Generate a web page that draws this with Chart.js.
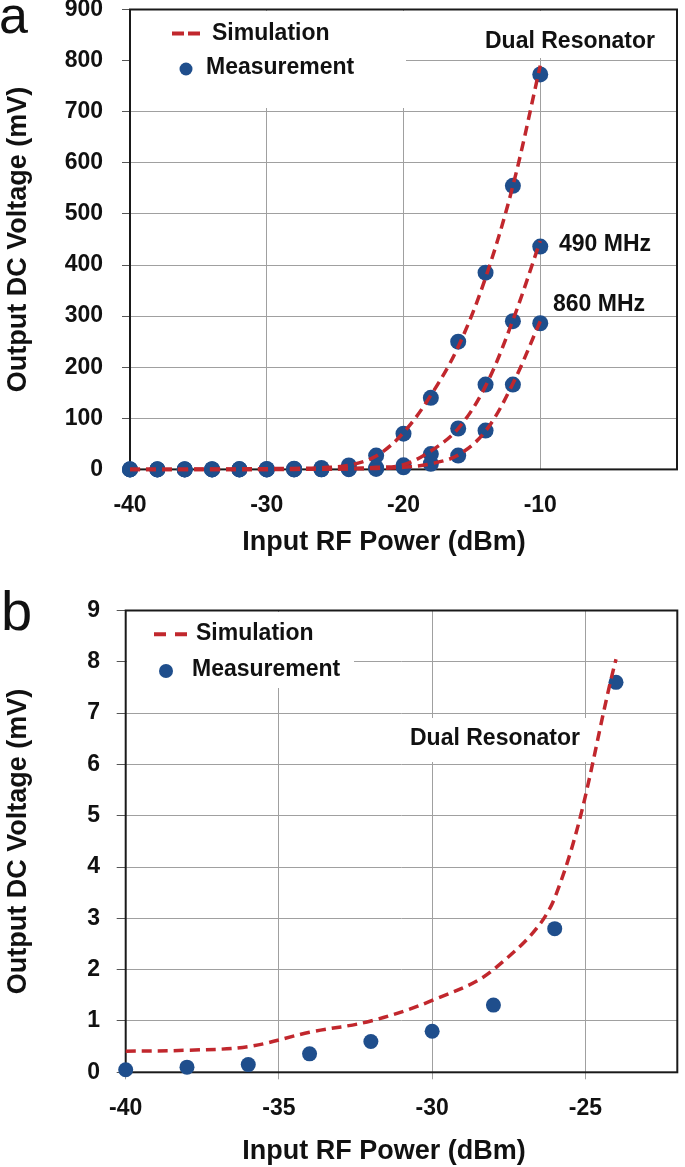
<!DOCTYPE html>
<html><head><meta charset="utf-8">
<script src="https://cdn.jsdelivr.net/npm/chart.js@4.4.1/dist/chart.umd.min.js"></script>
<style>
html,body{margin:0;padding:0;background:#fff;width:685px;height:1167px;overflow:hidden;}
#wa{position:absolute;left:0;top:0;width:685px;height:580px;}
#wb{position:absolute;left:0;top:580px;width:685px;height:587px;}
</style></head><body>
<div id="wa"><canvas id="ca"></canvas></div>
<div id="wb"><canvas id="cb"></canvas></div>
<script>
// ---------- Panel (a) data ----------
const powerA    = [-40,-38,-36,-34,-32,-30,-28,-26,-24,-22,-20,-18,-16,-14,-12,-10];
const measDualA = [0.05,0.1,0.15,0.36,0.6,0.8,1.3,2.8,7.6,27,70,140,250,385,555,773];
const meas490A  = [0,0,0,0,0,0,0.1,0.3,1,3,8,30,80,166,290,436];
const meas860A  = [0,0,0,0,0,0,0,0.1,0.5,1,4,11,27,76,166,286];
const simDualA  = [0.41,0.43,0.5,0.78,1.0,1.4,2.0,3.4,8.05,26,72,145,240,375,555,790];
const sim490A   = [0,0,0,0,0,0,0.5,1,2,4,9,36,80,163,292,447];
const sim860A   = [0,0,0,0,0,0,0,0.5,1,2,4,11,28,75,168,290];
const xTicksA   = [-40,-30,-20,-10];
const yTicksA   = [0,100,200,300,400,500,600,700,800,900];

// ---------- Panel (b) data ----------
const powerB  = [-40,-38,-36,-34,-32,-30,-28,-26,-24];
const measB   = [0.05,0.1,0.15,0.36,0.6,0.8,1.31,2.8,7.6];
const simB    = [0.41,0.43,0.5,0.78,1.0,1.4,2.0,3.4,8.05];
const xTicksB = [-40,-35,-30,-25];
const yTicksB = [0,1,2,3,4,5,6,7,8,9];

const FONT = '"Liberation Sans", Arial, sans-serif';
const RED = '#c1272d', BLUE = '#1f4e8c', GRID = '#a0a0a0', TXT = '#111';

const pts = (xs, ys) => xs.map((x, i) => ({x: x, y: ys[i]}));

function simSet(label, xs, ys) {
  return {type: 'line', label: label, data: pts(xs, ys), borderColor: RED, borderWidth: 3.5,
    borderDash: [10, 6], pointRadius: 0, fill: false, tension: 0.35,
    order: 0, clip: false};
}
function measSet(label, xs, ys, r) {
  return {type: 'scatter', label: label, data: pts(xs, ys), backgroundColor: BLUE,
    borderWidth: 0, pointRadius: r, pointHoverRadius: r, order: 1, clip: false};
}

function makeDeco(cfg) {
  return {
    id: 'deco',
    beforeDatasetsDraw(chart) {
      const ctx = chart.ctx, a = chart.chartArea;
      ctx.save();
      ctx.fillStyle = '#fff';
      cfg.boxes.forEach(b => ctx.fillRect(b[0], b[1], b[2] - b[0], b[3] - b[1]));
      ctx.strokeStyle = '#1a1a1a'; ctx.lineWidth = 2;
      ctx.strokeRect(a.left, a.top, a.right - a.left, a.bottom - a.top);
      ctx.restore();
    },
    afterDraw(chart) {
      const ctx = chart.ctx;
      ctx.save();
      const L = cfg.legend;
      ctx.strokeStyle = RED; ctx.lineWidth = 4; ctx.setLineDash([]);
      ctx.beginPath();
      ctx.moveTo(L.dash[0], L.dash[2]); ctx.lineTo(L.dash[0] + 12, L.dash[2]);
      ctx.moveTo(L.dash[1] - 12, L.dash[2]); ctx.lineTo(L.dash[1], L.dash[2]);
      ctx.stroke();
      ctx.fillStyle = BLUE;
      ctx.beginPath(); ctx.arc(L.dot[0], L.dot[1], L.dot[2], 0, Math.PI * 2); ctx.fill();
      ctx.fillStyle = TXT;
      ctx.font = 'bold 23px ' + FONT;
      ctx.textBaseline = 'middle'; ctx.textAlign = 'left';
      ctx.fillText('Simulation', L.sim[0], L.sim[1]);
      ctx.fillText('Measurement', L.meas[0], L.meas[1]);
      cfg.labels.forEach(l => ctx.fillText(l[0], l[1], l[2]));
      ctx.font = 'bold 27px ' + FONT;
      ctx.textAlign = 'center';
      ctx.fillText(cfg.xTitle[0], cfg.xTitle[1], cfg.xTitle[2]);
      ctx.font = cfg.letter[3] + 'px ' + FONT;
      ctx.textAlign = 'left'; ctx.textBaseline = 'alphabetic';
      ctx.fillText(cfg.letter[0], cfg.letter[1], cfg.letter[2]);
      ctx.restore();
    }
  };
}

function noPad(s) { s.paddingTop = 0; s.paddingBottom = 0; s.paddingLeft = 0; s.paddingRight = 0; }

function makeChart(el, datasets, sc, deco) {
  return new Chart(el, {
    type: 'scatter',
    data: {datasets: datasets},
    options: {
      responsive: true, maintainAspectRatio: false, animation: false, devicePixelRatio: 1,
      layout: {padding: sc.pad},
      plugins: {legend: {display: false}, tooltip: {enabled: false}},
      scales: {
        x: {
          type: 'linear', min: sc.xmin, max: sc.xmax,
          afterBuildTicks: s => { s.ticks = sc.xticks.map(v => ({value: v})); },
          afterFit: s => { s.height = sc.xh; noPad(s); },
          grid: {color: GRID, lineWidth: 1, drawTicks: sc.xtl > 0, tickLength: sc.xtl, tickColor: GRID},
          border: {display: false},
          ticks: {padding: sc.xpad, color: TXT, font: {family: FONT, size: 23, weight: 'bold'}, maxRotation: 0}
        },
        y: {
          type: 'linear', min: sc.ymin, max: sc.ymax,
          afterBuildTicks: s => { s.ticks = sc.yticks.map(v => ({value: v})); },
          afterFit: s => { s.width = sc.yw; noPad(s); },
          grid: {color: GRID, lineWidth: 1, drawTicks: true, tickLength: sc.ytl, tickColor: '#555'},
          border: {display: false},
          ticks: {padding: sc.ypad, color: TXT, font: {family: FONT, size: 23, weight: 'bold'}},
          title: {display: true, text: 'Output DC Voltage (mV)', color: TXT,
            font: {family: FONT, size: 27, weight: 'bold', lineHeight: 1}, padding: {top: sc.ytp, bottom: 0}}
        }
      }
    },
    plugins: [makeDeco(deco)]
  });
}

// ---------- Panel (a) ----------
makeChart(document.getElementById('ca'), [
  simSet('Simulation Dual', powerA, simDualA),
  simSet('Simulation 490 MHz', powerA, sim490A),
  simSet('Simulation 860 MHz', powerA, sim860A),
  measSet('Measurement Dual', powerA, measDualA, 8),
  measSet('Measurement 490 MHz', powerA, meas490A, 8),
  measSet('Measurement 860 MHz', powerA, meas860A, 8)
], {
  pad: {top: 9.5, right: 2, left: 0, bottom: 0},
  xmin: -40, xmax: 0, xticks: xTicksA, xh: 110.6, xtl: 0, xpad: 22,
  ymin: 0, ymax: 900, yticks: yTicksA, yw: 130, ytl: 8, ypad: 19, ytp: 5.5
}, {
  boxes: [[131, 11, 406, 108], [478, 11, 681, 58]],
  legend: {dash: [172, 200, 33.5], dot: [186, 69, 6.5], sim: [212, 34], meas: [206, 68]},
  labels: [['Dual Resonator', 485, 42], ['490 MHz', 559, 245], ['860 MHz', 553, 305]],
  xTitle: ['Input RF Power (dBm)', 384, 542.5],
  letter: ['a', -1, 33, 52]
});

// ---------- Panel (b) ----------
makeChart(document.getElementById('cb'), [
  simSet('Simulation', powerB, simB),
  measSet('Measurement', powerB, measB, 7.5)
], {
  pad: {top: 30.5, right: 7.7, left: 0, bottom: 0},
  xmin: -40, xmax: -22, xticks: xTicksB, xh: 94.7, xtl: 7, xpad: 15.2,
  ymin: 0, ymax: 9, yticks: yTicksB, yw: 125.7, ytl: 9, ypad: 16.7, ytp: 5
}, {
  boxes: [[127, 32, 354, 108], [383, 138, 590, 182]],
  legend: {dash: [154, 187, 54.3], dot: [166, 91, 7], sim: [196, 54], meas: [192, 90]},
  labels: [['Dual Resonator', 410, 159]],
  xTitle: ['Input RF Power (dBm)', 384, 571.7],
  letter: ['b', 1, 49.5, 56]
});
</script>
</body></html>
